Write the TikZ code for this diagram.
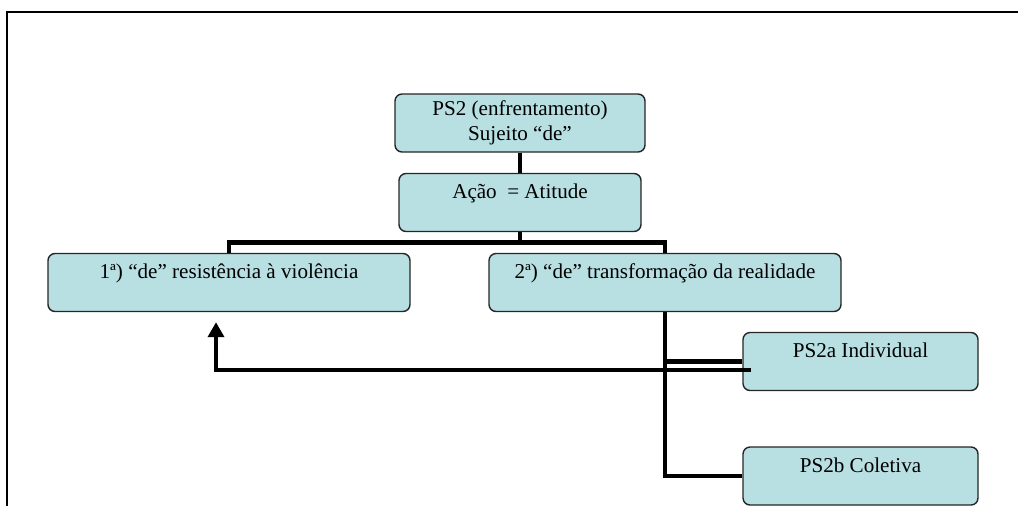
\documentclass[tikz,border=0pt]{standalone}
\usepackage{fontspec}
\setmainfont{Liberation Serif}
\usetikzlibrary{arrows.meta,positioning,calc}
\definecolor{boxfill}{RGB}{184,223,226}

\begin{document}
\begin{tikzpicture}[
  font=\fontsize{12}{14}\selectfont,
  box/.style={rectangle, rounded corners=4pt, draw=black!85, line width=0.8pt,
              fill=boxfill, inner sep=0pt, align=center,
              text height=0.5cm, text depth=0.66cm},
  link/.style={line width=2.7pt},
  frame/.style={line width=1.2pt}
]
\useasboundingbox (0,0) rectangle (20.36,10.12);
% frame
\draw[frame] (20.36,9.88) -- (0.14,9.88) -- (0.14,0);
% boxes
\node[box, minimum width=5.0cm, minimum height=1.16cm,
      text height=, text depth=] (ps2) at (10.40,7.66)
      {PS2 (enfrentamento)\\Sujeito “de”};
\node[box, minimum width=4.84cm] (acao)  at (10.40,6.07) {Ação \ = Atitude};
\node[box, minimum width=7.24cm] (res)   at (4.58,4.47)  {1ª) “de” resistência à violência};
\node[box, minimum width=7.04cm] (trans) at (13.30,4.47) {2ª) “de” transformação da realidade};
\node[box, minimum width=4.70cm] (indiv) at (17.21,2.89) {PS2a Individual};
\node[box, minimum width=4.70cm] (colet) at (17.21,0.60) {PS2b Coletiva};
% connectors
\draw[link] (ps2.south) -- (acao.north);
\draw[link] (acao.south) -- ++(0,-0.2) coordinate (bus) -| (res.north);
\draw[link] (bus) -| (trans.north);
\draw[link] (trans.south) |- (colet.west);
\draw[link] (trans.south |- indiv.west) -- (indiv.west);
% feedback arrow
\coordinate (fb) at ($(indiv.west)+(0.18,-0.17)$);
\coordinate (tip) at ($(res.south)+(-0.26,-0.2)$);
\draw[link, -{Triangle[length=0.3cm, width=0.32cm]}] (fb) -| (tip);
\end{tikzpicture}
\end{document}
